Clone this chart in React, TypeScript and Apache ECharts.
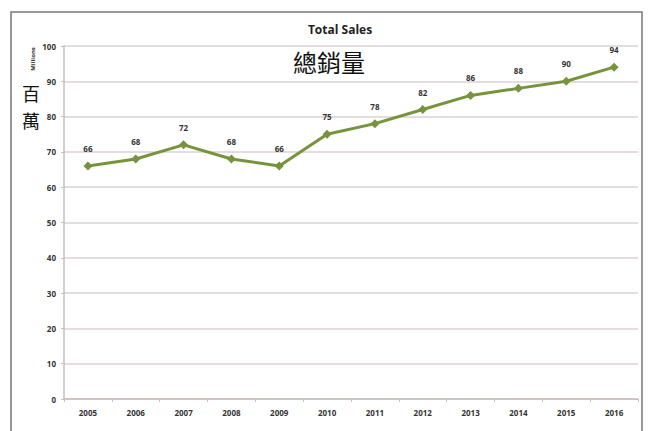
import React, { useEffect, useRef } from "react";
import * as echarts from "echarts";

const years = ["2005", "2006", "2007", "2008", "2009", "2010", "2011", "2012", "2013", "2014", "2015", "2016"];
const sales = [66, 68, 72, 68, 66, 75, 78, 82, 86, 88, 90, 94];
const yTicks = [0, 10, 20, 30, 40, 50, 60, 70, 80, 90, 100];

export default function App() {
  const ref = useRef<HTMLDivElement>(null);
  useEffect(() => {
    const chart = echarts.init(ref.current!, null, { renderer: "svg" });
    const font = "'Open Sans', 'DejaVu Sans', sans-serif";
    chart.setOption({
      animation: false,
      backgroundColor: "#ffffff",
      graphic: [
        {
          type: "rect",
          shape: { x: 11, y: 12, width: 631, height: 440 },
          style: { fill: "none", stroke: "#777777", lineWidth: 1.5 },
          silent: true,
        },
        {
          type: "text",
          x: 340,
          y: 29,
          style: { text: "Total Sales", fill: "#222", font: "bold 12px " + font, align: "center", verticalAlign: "middle" },
        },
        {
          type: "text",
          x: 329,
          y: 61,
          style: { text: "總銷量", fill: "#111", font: "24px 'Noto Sans CJK TC'", align: "center", verticalAlign: "middle" },
        },
        {
          type: "text",
          x: 31,
          y: 93,
          style: { text: "百", fill: "#111", font: "18px 'Noto Sans CJK TC'", align: "center", verticalAlign: "middle" },
        },
        {
          type: "text",
          x: 31,
          y: 120,
          style: { text: "萬", fill: "#111", font: "18px 'Noto Sans CJK TC'", align: "center", verticalAlign: "middle" },
        },
        {
          type: "text",
          x: 33,
          y: 59,
          rotation: Math.PI / 2,
          style: { text: "Millions", fill: "#333", font: "bold 6px " + font, align: "center", verticalAlign: "middle" },
        },
      ],
      grid: { left: 64, right: 10, top: 46, bottom: 32 },
      xAxis: {
        type: "category",
        data: years,
        boundaryGap: true,
        axisLine: { lineStyle: { color: "#c9bcbc", width: 1.5 } },
        axisTick: { show: true, alignWithLabel: false, length: 3, lineStyle: { color: "#c9bcbc" } },
        axisLabel: { color: "#333", fontSize: 8, fontWeight: "bold", fontFamily: font, margin: 9 },
      },
      yAxis: {
        type: "value",
        min: 0,
        max: 100,
        interval: 10,
        axisLine: { show: true, lineStyle: { color: "#c9bcbc", width: 1.5 } },
        axisTick: { show: true, length: 3, lineStyle: { color: "#c9bcbc" } },
        axisLabel: {
          color: "#333",
          fontSize: 8,
          fontWeight: "bold",
          fontFamily: font,
          margin: 8,
          formatter: (v: number) => (yTicks.includes(v) ? String(v) : ""),
        },
        splitLine: { show: true, lineStyle: { color: "#ddd2d2", width: 1.5 } },
      },
      series: [
        {
          type: "line",
          data: sales,
          symbol: "diamond",
          symbolSize: 9,
          lineStyle: { color: "#77933c", width: 3 },
          itemStyle: { color: "#77933c" },
          label: {
            show: true,
            position: "top",
            distance: 9,
            color: "#333",
            fontSize: 8,
            fontWeight: "bold",
            fontFamily: font,
          },
        },
      ],
    });
    return () => chart.dispose();
  }, []);
  return <div ref={ref} style={{ width: 648, height: 431, position: "absolute", left: 0, top: 0 }} />;
}
